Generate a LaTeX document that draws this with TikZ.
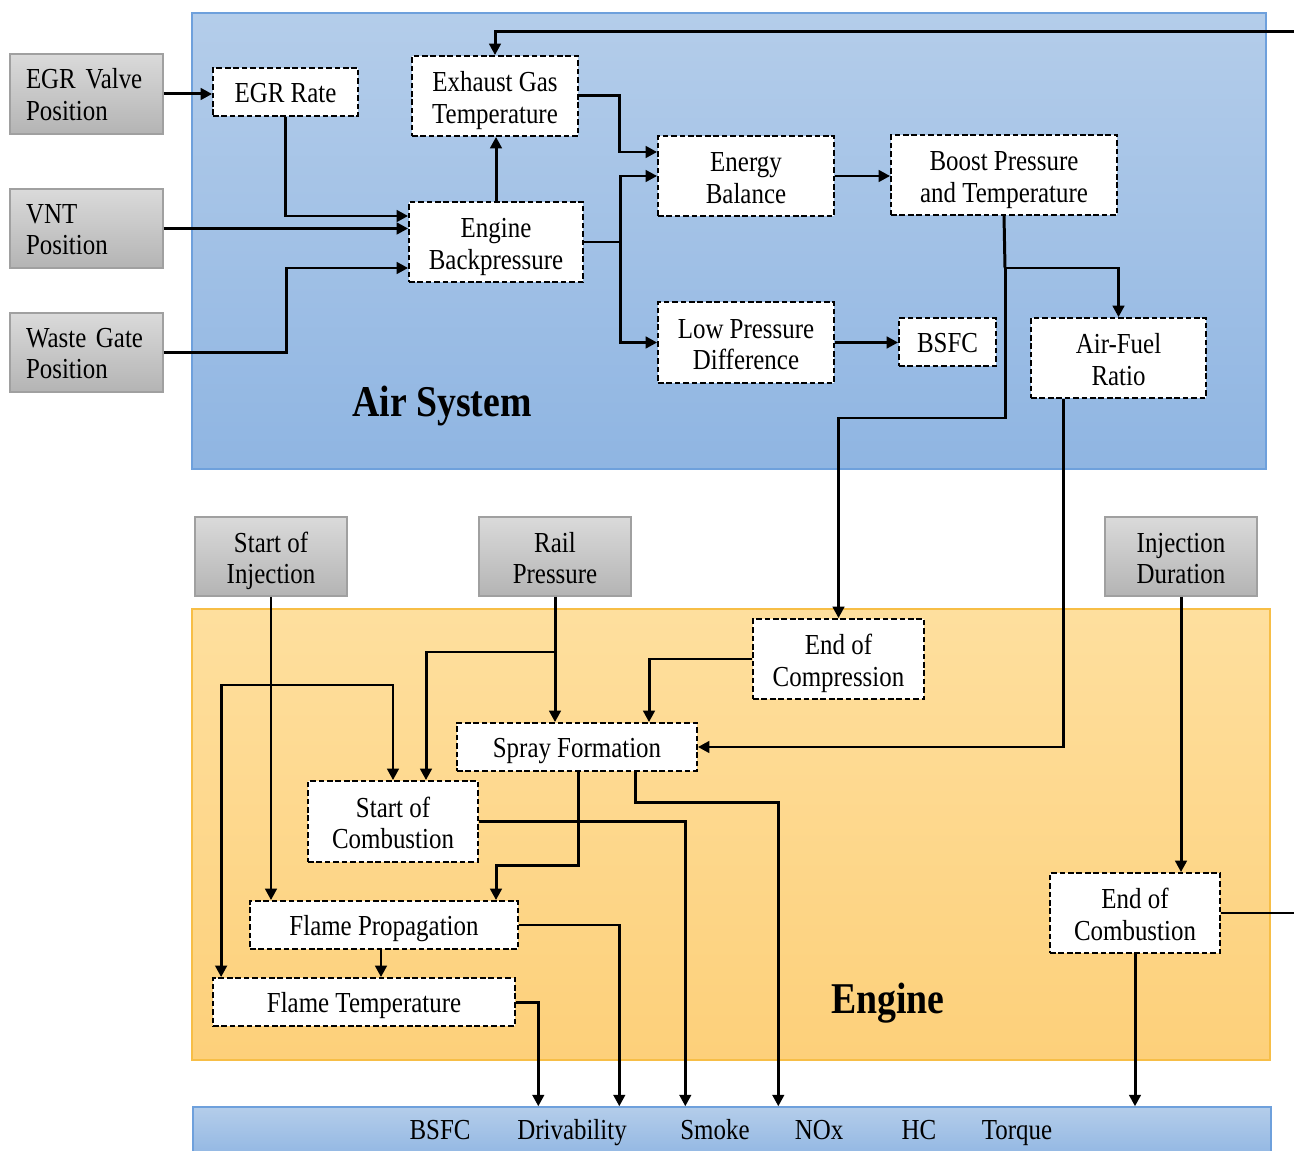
\documentclass[tikz,border=0pt]{standalone}
\usepackage{fontspec}
\setmainfont{Liberation Serif}[FakeStretch=0.86]
\usetikzlibrary{arrows.meta,calc}
\definecolor{airtop}{RGB}{180,205,234}
\definecolor{airbot}{RGB}{143,181,226}
\definecolor{airedge}{RGB}{110,160,220}
\definecolor{engtop}{RGB}{254,223,158}
\definecolor{engbot}{RGB}{253,208,122}
\definecolor{engedge}{RGB}{247,190,70}
\definecolor{gtop}{RGB}{218,218,218}
\definecolor{gbot}{RGB}{180,180,180}
\definecolor{gedge}{RGB}{160,160,160}
% box from corner (x1,y1) to (x2,y2): style, x1, y1, x2, y2, name, text
\newcommand\mkbox[7]{\node[#1, minimum width={0.02cm*(#4-#2)}, minimum height={0.02cm*(#5-#3)}] (#6) at ({(#2+#4)/2},{(#3+#5)/2}) {#7};}
\begin{document}
\begin{tikzpicture}[x=0.02cm,y=-0.02cm,
  every node/.style={font=\fontsize{16.5}{18}\selectfont},
  % fixed text extents, so every label sits at the same height in its box
  one/.style={text height=17pt, text depth=5pt},
  two/.style={text height=36pt, text depth=5pt},
  twotop/.style={text height=17pt, text depth=23pt},
  dbox/.style={draw, fill=white, dash pattern=on 3.2pt off 1.6pt, line width=1pt, align=center, inner sep=0pt},
  gbox/.style={draw=gedge, line width=0.6pt, shading=axis, top color=gtop, bottom color=gbot, align=center, inner sep=0pt},
  gleft/.style={gbox, twotop, align=left, text width=2.42cm},
  panel/.style={line width=0.8pt, shading=axis},
  link/.style={line width=1.7pt, -{Triangle[length=6.5pt,width=6.5pt]}},
  wire/.style={line width=1.7pt},
  title/.style={font=\fontsize{25}{30}\selectfont\bfseries}]
\useasboundingbox (0,0) rectangle (1294,1151);

% background panels
\path[panel, draw=airedge, top color=airtop, bottom color=airbot] (192,13) rectangle (1266,469);
\path[panel, draw=engedge, top color=engtop, bottom color=engbot] (192,609) rectangle (1270,1060);
\mkbox{draw=airedge, line width=0.8pt, shading=axis, top color=airtop, bottom color=airbot, inner sep=0pt}{193}{1107}{1271}{1160}{out}{}

% inputs
\mkbox{gleft}{10}{54}{163}{134}{egrv}{EGR Valve\\Position}
\mkbox{gleft}{10}{189}{163}{268}{vnt}{VNT\\Position}
\mkbox{gleft}{10}{313}{163}{392}{wg}{Waste Gate\\Position}
\mkbox{gbox,two}{195}{517}{347}{596}{soi}{Start of\\Injection}
\mkbox{gbox,two}{479}{517}{631}{596}{rail}{Rail\\Pressure}
\mkbox{gbox,two}{1105}{517}{1257}{596}{idur}{Injection\\Duration}

% air system blocks
\mkbox{dbox,one}{213}{68}{358}{116}{egr}{EGR Rate}
\mkbox{dbox,two}{412}{56}{578}{136}{eg}{Exhaust Gas\\Temperature}
\mkbox{dbox,two}{409}{202}{583}{282}{bp}{Engine\\Backpressure}
\mkbox{dbox,two}{658}{136}{834}{216}{eb}{Energy\\Balance}
\mkbox{dbox,two}{891}{135}{1117}{215}{bpt}{Boost Pressure\\and Temperature}
\mkbox{dbox,two}{658}{302}{834}{383}{lp}{Low Pressure\\Difference}
\mkbox{dbox,one}{899}{318}{996}{366}{bsfc}{BSFC}
\mkbox{dbox,two}{1031}{318}{1206}{398}{afr}{Air-Fuel\\Ratio}
\node[title] (airlbl) at (442,406) {Air System};

% engine blocks
\mkbox{dbox,two}{753}{619}{924}{699}{ecomp}{End of\\Compression}
\mkbox{dbox,one}{457}{723}{697}{771}{spray}{Spray Formation}
\mkbox{dbox,two}{308}{781}{478}{862}{soc}{Start of\\Combustion}
\mkbox{dbox,one}{250}{901}{518}{949}{fp}{Flame Propagation}
\mkbox{dbox,one}{213}{978}{515}{1026}{ft}{Flame Temperature}
\mkbox{dbox,two}{1050}{873}{1220}{953}{ecb}{End of\\Combustion}
\node[title] (englbl) at (888,1003) {Engine};

% outputs
\node[one] (oBSFC) at (440,1129) {BSFC};
\node[one] (oDriv) at (572,1129) {Drivability};
\node[one] (oSmoke) at (715,1129) {Smoke};
\node[one] (oNOx) at (819,1129) {NOx};
\node[one] (oHC) at (919,1129) {HC};
\node[one] (oTorque) at (1017,1129) {Torque};

% junctions
\coordinate (jbp) at (620,242);
\coordinate (jbt) at (1005,268);
\coordinate (jsoi) at (271,685);
\coordinate (jrail) at (555,652);

% air system connections
\draw[link] (egrv.east) -- (egrv.east -| egr.west);
\draw[link] (egr.south) |- ($(bp.west)+(0,-26)$);
\draw[link] (vnt.east) -- (vnt.east -| bp.west);
\draw[link] (wg.east) -| ($(bp.west)+(-122,26)$) -- ($(bp.west)+(0,26)$);
\draw[link] (bp.north) -- (bp.north |- eg.south);
\draw[link] (eg.east) -| ($(eb.west)+(-38,-24)$) -- ($(eb.west)+(0,-24)$);
\draw[wire] (bp.east) -- (jbp);
\draw[link] (jbp) |- (eb.west);
\draw[link] (jbp) |- (lp.west);
\draw[link] (eb.east) -- (eb.east -| bpt.west);
\draw[link] (lp.east) -- (lp.east -| bsfc.west);
\draw[wire] (bpt.south) -- (jbt);
\draw[link] (jbt) -| (afr.north);
\draw[link] (jbt) -- (1005,418) -| (ecomp.north);
\draw[link] ($(afr.south)+(-55,0)$) |- (spray.east);

% feedback from end of combustion to exhaust gas temperature
\draw[link] (ecb.east) -| (1340,32) -| (eg.north);

% engine connections
\draw[link] (soi.south) -- (soi.south |- fp.north);
\draw[link] (jsoi) -| ($(ft.north west)+(9,0)$);
\draw[link] (jsoi) -| (soc.north);
\draw[link] (rail.south) -- (rail.south |- spray.north);
\draw[link] (jrail) -| ($(soc.north)+(33,0)$);
\draw[link] (ecomp.west) -| ($(spray.north)+(72,0)$);
\draw[link] ($(spray.south)+(1,0)$) -- ++(0,94) -| ($(fp.north)+(112,0)$);
\draw[link] ($(spray.south)+(58,0)$) -- ++(0,31) -| ($(out.north west)+(586,0)$);
\draw[link] (soc.east) -| ($(out.north west)+(493,0)$);
\draw[link] (fp.east) -| ($(out.north west)+(427,0)$);
\draw[link] ($(fp.south)+(-3,0)$) -- ($(ft.north)+(17,0)$);
\draw[link] (ft.east) -| ($(out.north west)+(346,0)$);
\draw[link] (idur.south) -- (idur.south |- ecb.north);
\draw[link] (ecb.south) -- (ecb.south |- out.north);
\end{tikzpicture}
\end{document}
